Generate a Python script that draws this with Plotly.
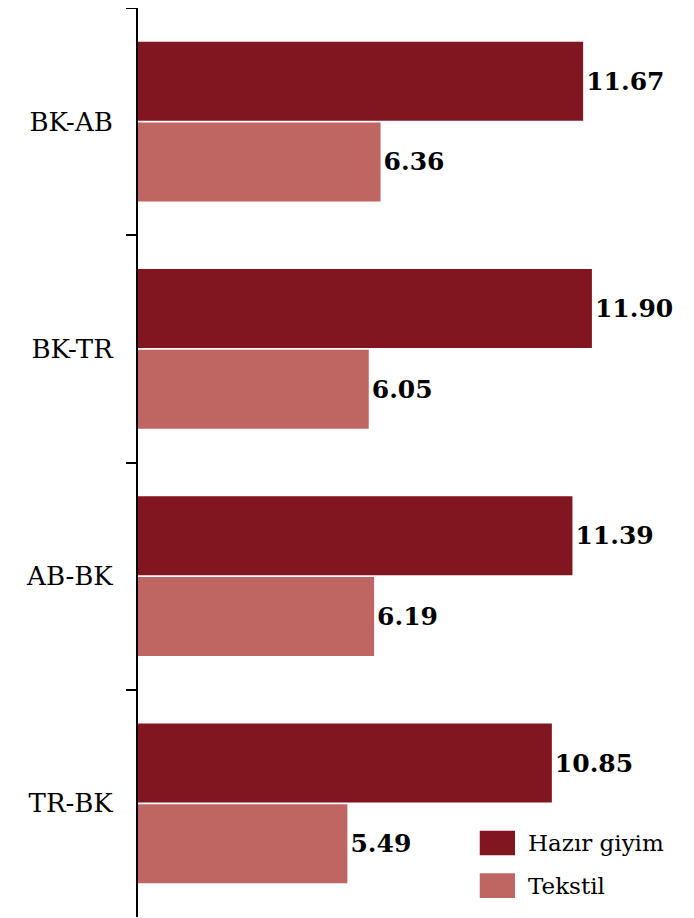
import plotly.graph_objects as go

pairs = ["BK-AB", "BK-TR", "AB-BK", "TR-BK"]
hazir_giyim = [11.67, 11.90, 11.39, 10.85]
tekstil = [6.36, 6.05, 6.19, 5.49]
series_names = ["Hazır giyim", "Tekstil"]
series_colors = ["#811520", "#C06662"]

fig = go.Figure()
for name, vals, col in zip(series_names, [hazir_giyim, tekstil], series_colors):
    fig.add_trace(go.Bar(
        y=pairs, x=vals, name=name, orientation="h",
        marker=dict(color=col, line=dict(width=0)),
        text=[f"{v:.2f}" for v in vals], textposition="outside",
        textfont=dict(family="DejaVu Serif", size=25, color="black", weight="bold"),
        cliponaxis=False, showlegend=False,
    ))

# legend drawn by hand so the swatches come out the same size as the original
for i, (name, col) in enumerate(zip(series_names, series_colors)):
    y0 = 0.068 - i * 0.047
    fig.add_shape(type="rect", xref="paper", yref="paper",
                  x0=0.64, x1=0.706, y0=y0, y1=y0 + 0.027,
                  fillcolor=col, line=dict(width=0))
    fig.add_annotation(xref="paper", yref="paper", x=0.727, y=y0 + 0.0135,
                       text=name, showarrow=False, xanchor="left", yanchor="middle",
                       font=dict(family="DejaVu Serif", size=23, color="black"))

fig.update_layout(
    width=694, height=918,
    margin=dict(l=130, r=30, t=0, b=9, autoexpand=False),
    paper_bgcolor="white", plot_bgcolor="white",
    barmode="group", bargap=0.29, bargroupgap=0.02,
    font=dict(family="DejaVu Serif", color="black"),
)
fig.update_xaxes(range=[0, 14], visible=False, automargin=False)
fig.update_yaxes(autorange="reversed", showline=True, linecolor="black", linewidth=2,
                 ticks="outside", tickson="boundaries", ticklen=10, tickwidth=2,
                 tickcolor="black", showgrid=False, tickfont=dict(size=26),
                 ticklabelstandoff=18, automargin=False)

fig.write_html("out.html")
